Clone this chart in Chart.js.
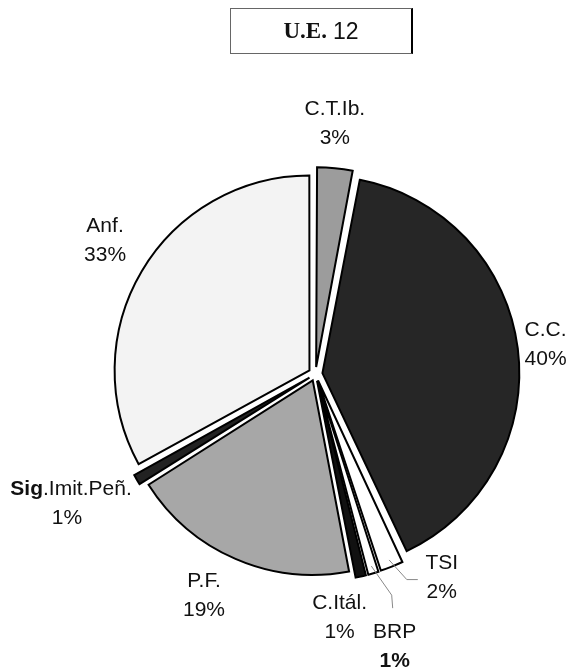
<!DOCTYPE html>
<html>
<head>
<meta charset="utf-8">
<script src="https://cdn.jsdelivr.net/npm/chart.js@4"></script>
<style>
  body { margin: 0; background: #fff; }
  #wrap { position: relative; width: 575px; height: 670px; }
  #title {
    position: absolute; left: 230px; top: 8px; width: 180px; height: 44px;
    border: 1px solid #666; border-right: 2px solid #000;
    display: flex; align-items: center; justify-content: center;
    font-size: 23px; color: #111;
  }
  #title b { font-family: 'Liberation Serif', serif; margin-right: 6px; }
  #title span { font-family: 'Liberation Sans', Arial, sans-serif; }
</style>
</head>
<body>
<div id="wrap">
  <canvas id="pie" width="575" height="670"></canvas>
  <div id="title"><b>U.E.</b><span>12</span></div>
</div>
<script>
// Data (clockwise from 12 o'clock)
const categories = ['C.T.Ib.', 'C.C.', 'TSI', 'BRP', 'C.Itál.', 'P.F.', 'Sig.Imit.Peñ.', 'Anf.'];
const shares = [3, 40, 2, 1, 1, 19, 1, 33];
const fills = ['#9c9c9c', '#262626', '#ffffff', '#ffffff', '#111111', '#a7a7a7', '#222222', '#f3f3f3'];

// label placement: nudge from a point 248px out along the slice mid-angle
const labelNudge = [[-4, -4], [-16, 1], [35, -27], [10, 34], [-30, 1], [-13, -6], [-31, 3], [3, -8]];
const leaders = { 2: [[-35, 2], [-24, 2]], 3: [[-3, -51], [-2, -38]] };

const outsideLabels = {
  id: 'outsideLabels',
  afterDraw(chart) {
    const ctx = chart.ctx;
    const arcs = chart.getDatasetMeta(0).data;
    ctx.save();
    ctx.fillStyle = '#111';
    ctx.textBaseline = 'middle';
    arcs.forEach((arc, i) => {
      const mid = (arc.startAngle + arc.endAngle) / 2;
      const lx = arc.x + Math.cos(mid) * 248 + labelNudge[i][0];
      const ly = arc.y + Math.sin(mid) * 248 + labelNudge[i][1];

      if (leaders[i]) {
        const r = arc.outerRadius + 6;
        ctx.strokeStyle = '#888';
        ctx.lineWidth = 1;
        ctx.beginPath();
        ctx.moveTo(arc.x + Math.cos(mid) * r, arc.y + Math.sin(mid) * r);
        leaders[i].forEach(p => ctx.lineTo(lx + p[0], ly + p[1]));
        ctx.stroke();
      }

      const name = categories[i];
      const pct = shares[i] + '%';
      const font = '21px "Liberation Sans", Arial, sans-serif';
      ctx.textAlign = 'center';
      if (name.startsWith('Sig')) {
        // "Sig" appears bold in the source
        const rest = name.slice(3);
        ctx.font = 'bold ' + font;
        const w1 = ctx.measureText('Sig').width;
        ctx.font = font;
        const w2 = ctx.measureText(rest).width;
        const x0 = lx - (w1 + w2) / 2;
        ctx.textAlign = 'left';
        ctx.font = 'bold ' + font;
        ctx.fillText('Sig', x0, ly - 14);
        ctx.font = font;
        ctx.fillText(rest, x0 + w1, ly - 14);
        ctx.textAlign = 'center';
        ctx.fillText(pct, lx - 4, ly + 15);
      } else {
        ctx.font = font;
        ctx.fillText(name, lx, ly - 14);
        ctx.font = (name === 'BRP' ? 'bold ' : '') + font;
        ctx.fillText(pct, lx, ly + 15);
      }
    });
    ctx.restore();
  }
};

new Chart(document.getElementById('pie'), {
  type: 'pie',
  data: {
    labels: categories,
    datasets: [{
      data: shares,
      backgroundColor: fills,
      borderColor: '#000',
      borderWidth: 2,
      borderJoinStyle: 'miter',
      offset: 28,
      radius: 194
    }]
  },
  options: {
    responsive: false,
    animation: false,
    layout: { padding: { left: 56, right: 0, top: 78, bottom: 0 } },
    plugins: { legend: { display: false }, tooltip: { enabled: false } }
  },
  plugins: [outsideLabels]
});
</script>
</body>
</html>
